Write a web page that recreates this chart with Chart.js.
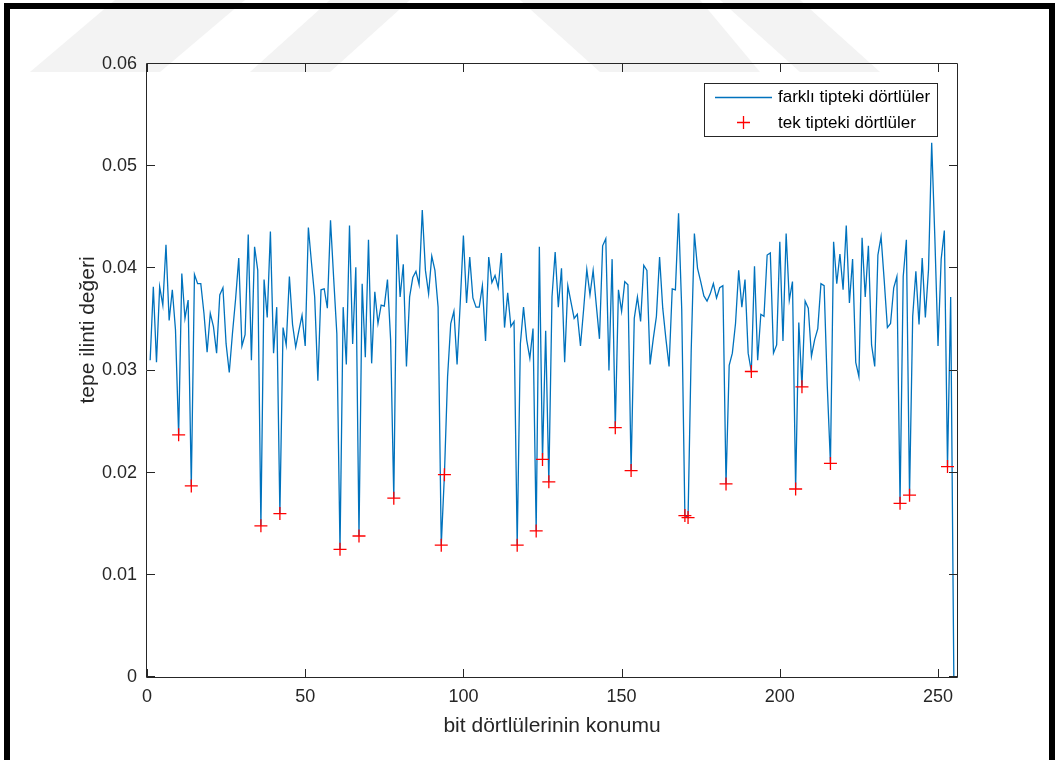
<!DOCTYPE html>
<html>
<head>
<meta charset="utf-8">
<script src="https://cdn.jsdelivr.net/npm/chart.js@4/dist/chart.umd.min.js"></script>
<style>
  html, body { margin: 0; padding: 0; background: #ffffff; }
  canvas { display: block; }
</style>
</head>
<body>
<canvas id="c" width="1059" height="760"></canvas>
<script>
// peak correlation value for each quadruple position (1..256)
const peakValues = [
  0.0310, 0.0382, 0.0308, 0.0382, 0.0364, 0.0423, 0.0349, 0.0379, 0.0340, 0.0237,
  0.0395, 0.0351, 0.0369, 0.0187, 0.0394, 0.0385, 0.0385, 0.0356, 0.0318, 0.0356,
  0.0343, 0.0317, 0.0374, 0.0381, 0.0326, 0.0298, 0.0336, 0.0370, 0.0410, 0.0324,
  0.0335, 0.0433, 0.0310, 0.0421, 0.0398, 0.0148, 0.0389, 0.0352, 0.0436, 0.0317,
  0.0362, 0.0160, 0.0342, 0.0325, 0.0392, 0.0345, 0.0323, 0.0339, 0.0354, 0.0324,
  0.0440, 0.0405, 0.0372, 0.0290, 0.0379, 0.0380, 0.0361, 0.0447, 0.0390, 0.0336,
  0.0125, 0.0362, 0.0306, 0.0442, 0.0326, 0.0401, 0.0138, 0.0385, 0.0313, 0.0428,
  0.0307, 0.0377, 0.0346, 0.0364, 0.0363, 0.0389, 0.0330, 0.0175, 0.0433, 0.0372,
  0.0404, 0.0304, 0.0372, 0.0391, 0.0397, 0.0384, 0.0457, 0.0398, 0.0375, 0.0412,
  0.0398, 0.0362, 0.0129, 0.0198, 0.0294, 0.0346, 0.0358, 0.0306, 0.0366, 0.0432,
  0.0366, 0.0411, 0.0371, 0.0362, 0.0362, 0.0383, 0.0329, 0.0411, 0.0386, 0.0393,
  0.0381, 0.0415, 0.0342, 0.0376, 0.0343, 0.0348, 0.0129, 0.0326, 0.0362, 0.0330,
  0.0312, 0.0341, 0.0143, 0.0421, 0.0213, 0.0339, 0.0191, 0.0372, 0.0416, 0.0362,
  0.0400, 0.0308, 0.0383, 0.0367, 0.0351, 0.0355, 0.0324, 0.0360, 0.0399, 0.0374,
  0.0398, 0.0364, 0.0331, 0.0422, 0.0429, 0.0300, 0.0409, 0.0244, 0.0379, 0.0358,
  0.0387, 0.0384, 0.0202, 0.0351, 0.0372, 0.0348, 0.0403, 0.0398, 0.0306, 0.0331,
  0.0353, 0.0411, 0.0361, 0.0331, 0.0304, 0.0380, 0.0379, 0.0454, 0.0360, 0.0158,
  0.0156, 0.0320, 0.0434, 0.0400, 0.0387, 0.0373, 0.0368, 0.0375, 0.0385, 0.0371,
  0.0381, 0.0383, 0.0189, 0.0305, 0.0317, 0.0346, 0.0398, 0.0362, 0.0389, 0.0317,
  0.0299, 0.0402, 0.0310, 0.0355, 0.0353, 0.0413, 0.0415, 0.0317, 0.0325, 0.0426,
  0.0329, 0.0434, 0.0369, 0.0387, 0.0184, 0.0347, 0.0284, 0.0368, 0.0361, 0.0314,
  0.0330, 0.0341, 0.0385, 0.0383, 0.0285, 0.0209, 0.0426, 0.0385, 0.0414, 0.0379,
  0.0442, 0.0366, 0.0409, 0.0308, 0.0294, 0.0430, 0.0372, 0.0422, 0.0325, 0.0304,
  0.0413, 0.0431, 0.0388, 0.0342, 0.0346, 0.0381, 0.0392, 0.0170, 0.0392, 0.0428,
  0.0178, 0.0353, 0.0397, 0.0345, 0.0410, 0.0352, 0.0399, 0.0523, 0.0430, 0.0324,
  0.0409, 0.0437, 0.0206, 0.0372, 0.0000, 0.0000
];

// positions of the single-type quadruples (marked with crosses)
const singleTypePositions = [
  10, 14, 36, 42, 61, 67, 78, 93, 94, 117, 123, 125, 127,
  148, 153, 170, 171, 183, 191, 205, 207, 216, 238, 241, 253
];

const xTickValues = [0, 50, 100, 150, 200, 250];
const yTickValues = [0, 0.01, 0.02, 0.03, 0.04, 0.05, 0.06];

const lineLabel = 'farklı tipteki dörtlüler';
const crossLabel = 'tek tipteki dörtlüler';
const xTitle = 'bit dörtlülerinin konumu';
const yTitle = 'tepe ilinti değeri';

const FONT = '"Liberation Sans", Arial, Helvetica, sans-serif';
const AXIS_COLOR = '#262626';
const LINE_COLOR = '#0072BD';
const CROSS_COLOR = '#FF0000';

const lineData = peakValues.map((v, i) => ({ x: i + 1, y: v }));
const crossData = singleTypePositions.map(p => ({ x: p, y: peakValues[p - 1] }));

// white page, faint watermark and the thick outer frame
const pagePlugin = {
  id: 'page',
  beforeDraw(chart) {
    const ctx = chart.ctx;
    ctx.save();
    ctx.fillStyle = '#ffffff';
    ctx.fillRect(0, 0, chart.width, chart.height);
    ctx.fillStyle = '#f3f3f3';
    const shapes = [
      [[30, 72], [160, 72], [245, 0], [115, 0]],
      [[250, 72], [330, 72], [410, 0], [330, 0]],
      [[520, 0], [700, 0], [760, 72], [600, 72]],
      [[720, 0], [800, 0], [880, 72], [800, 72]]
    ];
    shapes.forEach(s => {
      ctx.beginPath();
      ctx.moveTo(s[0][0], s[0][1]);
      for (let k = 1; k < s.length; k++) ctx.lineTo(s[k][0], s[k][1]);
      ctx.closePath();
      ctx.fill();
    });
    ctx.fillStyle = '#000000';
    ctx.fillRect(4, 3, 6, 760);
    ctx.fillRect(4, 3, 1051, 6);
    ctx.fillRect(1049, 3, 6, 760);
    ctx.restore();
  },
  afterDraw(chart) {
    const ctx = chart.ctx;
    const a = chart.chartArea;
    const xs = chart.scales.x, ys = chart.scales.y;
    ctx.save();
    ctx.strokeStyle = AXIS_COLOR;
    ctx.lineWidth = 1;
    ctx.beginPath();
    ctx.rect(Math.round(a.left) - 0.5, Math.round(a.top) - 0.5,
             Math.round(a.right - a.left) + 1, Math.round(a.bottom - a.top) + 1);
    ctx.stroke();
    const tl = 8;
    ctx.beginPath();
    xTickValues.forEach(v => {
      const px = Math.round(xs.getPixelForValue(v)) + 0.5;
      ctx.moveTo(px, a.bottom); ctx.lineTo(px, a.bottom - tl);
      ctx.moveTo(px, a.top); ctx.lineTo(px, a.top + tl);
    });
    yTickValues.forEach(v => {
      const py = Math.round(ys.getPixelForValue(v)) - 0.5;
      ctx.moveTo(a.left, py); ctx.lineTo(a.left + tl, py);
      ctx.moveTo(a.right, py); ctx.lineTo(a.right - tl, py);
    });
    ctx.stroke();

    // vertical axis title
    ctx.save();
    ctx.translate(88, 330);
    ctx.rotate(-Math.PI / 2);
    ctx.fillStyle = AXIS_COLOR;
    ctx.font = '21px ' + FONT;
    ctx.textAlign = 'center';
    ctx.textBaseline = 'middle';
    ctx.fillText(yTitle, 0, 0);
    ctx.restore();

    // legend box inside the axes
    const bx = 704.5, by = 83.5, bw = 233, bh = 53;
    ctx.fillStyle = '#ffffff';
    ctx.fillRect(bx, by, bw, bh);
    ctx.strokeStyle = AXIS_COLOR;
    ctx.lineWidth = 1;
    ctx.strokeRect(bx, by, bw, bh);
    ctx.strokeStyle = LINE_COLOR;
    ctx.lineWidth = 1.3;
    ctx.beginPath();
    ctx.moveTo(715, 97.5); ctx.lineTo(772, 97.5);
    ctx.stroke();
    ctx.strokeStyle = CROSS_COLOR;
    ctx.lineWidth = 1.3;
    ctx.beginPath();
    ctx.moveTo(737, 122.5); ctx.lineTo(750, 122.5);
    ctx.moveTo(743.5, 116); ctx.lineTo(743.5, 129);
    ctx.stroke();
    ctx.fillStyle = '#000000';
    ctx.font = '17px ' + FONT;
    ctx.textBaseline = 'middle';
    ctx.textAlign = 'left';
    ctx.fillText(lineLabel, 778, 97);
    ctx.fillText(crossLabel, 778, 123);
    ctx.restore();
  }
};

new Chart(document.getElementById('c'), {
  type: 'scatter',
  data: {
    datasets: [
      {
        label: lineLabel,
        data: lineData,
        showLine: true,
        borderColor: LINE_COLOR,
        backgroundColor: LINE_COLOR,
        borderWidth: 1.3,
        pointRadius: 0,
        pointHoverRadius: 0,
        tension: 0,
        order: 2
      },
      {
        label: crossLabel,
        data: crossData,
        showLine: false,
        pointStyle: 'cross',
        pointRadius: 6.5,
        pointBorderWidth: 1.3,
        borderColor: CROSS_COLOR,
        backgroundColor: CROSS_COLOR,
        order: 1
      }
    ]
  },
  options: {
    responsive: false,
    animation: false,
    events: [],
    layout: { padding: { left: 76, top: 64, right: 102, bottom: 21 } },
    plugins: { legend: { display: false }, tooltip: { enabled: false } },
    scales: {
      x: {
        type: 'linear',
        min: 0,
        max: 256,
        afterFit(s) { s.height = 62; },
        afterBuildTicks(s) { s.ticks = xTickValues.map(v => ({ value: v })); },
        grid: { display: false, drawTicks: false },
        border: { display: false },
        ticks: {
          color: AXIS_COLOR,
          font: { family: FONT, size: 18 },
          padding: 9,
          maxRotation: 0,
          callback: v => String(v)
        },
        title: {
          display: true,
          text: xTitle,
          color: AXIS_COLOR,
          font: { family: FONT, size: 21 },
          padding: 0
        }
      },
      y: {
        type: 'linear',
        min: 0,
        max: 0.06,
        afterFit(s) { s.width = 71; },
        afterBuildTicks(s) { s.ticks = yTickValues.map(v => ({ value: v })); },
        grid: { display: false, drawTicks: false },
        border: { display: false },
        ticks: {
          color: AXIS_COLOR,
          font: { family: FONT, size: 18 },
          padding: 10,
          callback: v => (v === 0 ? '0' : v.toFixed(2))
        },
        title: { display: false }
      }
    }
  },
  plugins: [pagePlugin]
});
</script>
</body>
</html>
